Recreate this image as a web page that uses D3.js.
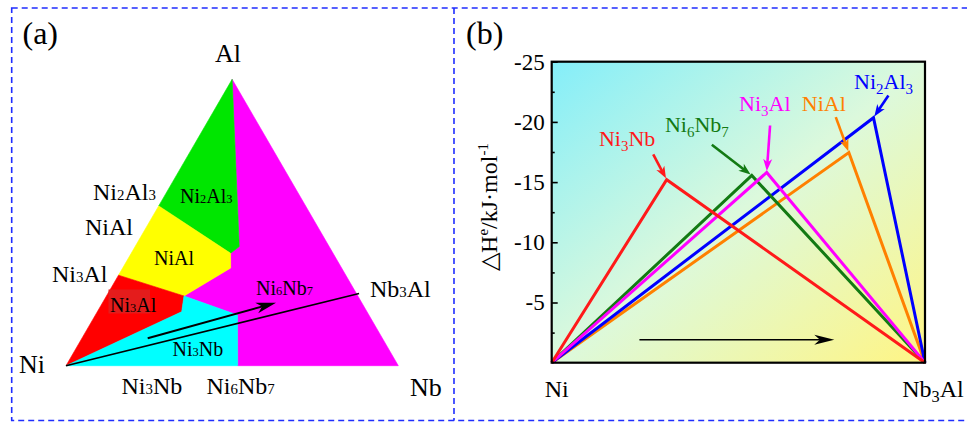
<!DOCTYPE html>
<html>
<head>
<meta charset="utf-8">
<script src="https://cdn.jsdelivr.net/npm/d3@7"></script>
<style>
  body { margin: 0; background: #fff; }
  svg { display: block; }
  text { font-family: "Liberation Serif", "Times New Roman", serif; }
</style>
</head>
<body>
<svg id="fig" width="967" height="423"></svg>
<script>
// ---------- Panel (a): Ni–Al–Nb ternary phase map ----------
// Each point is [Al fraction, Nb fraction]; Ni makes up the rest.
const regionNi2Al3 = [[1, 0], [0.558, 0], [0.3925, 0.299], [0.416, 0.3134]];
const regionNiAl   = [[0.558, 0], [0.316, 0], [0.2434, 0.2334], [0.3411, 0.325], [0.3925, 0.299]];
const regionNi3Al  = [[0.316, 0], [0, 0], [0.1885, 0.2539], [0.2434, 0.2334]];
const regionNi3Nb  = [[0, 0], [0, 0.5167], [0.177, 0.4276], [0.2434, 0.2334], [0.1885, 0.2539]];
const regionNi6Nb7 = [[1, 0], [0.416, 0.3134], [0.3925, 0.299], [0.3411, 0.325], [0.2434, 0.2334],
                      [0.177, 0.4276], [0, 0.5167], [0, 1]];
const regionNames  = ["Ni6Nb7", "Ni2Al3", "NiAl", "Ni3Al", "Ni3Nb"];
const regionFills  = ["#ff00ff", "#00e600", "#ffff00", "#ff0000", "#00ffff"];
const regionPolys  = [regionNi6Nb7, regionNi2Al3, regionNiAl, regionNi3Al, regionNi3Nb];

// composition path Ni -> Nb3Al and the direction arrow beside it
const pathNi      = [0, 0];
const pathNb3Al   = [0.25, 0.75];
const pathArrowA  = [[0.0957, 0.198], [0.22, 0.522]];

// ---------- Panel (b): formation enthalpy along Ni -> Nb3Al ----------
const compounds   = ["Ni3Nb", "Ni6Nb7", "Ni3Al", "NiAl", "Ni2Al3"];
const peakX       = [0.308, 0.536, 0.576, 0.796, 0.862];
const peakH       = [-15.2, -15.55, -15.8, -17.45, -20.35];
const calloutX    = [0.272, 0.429, 0.585, 0.761, 0.902];
const calloutH    = [-17.3, -18.1, -19.7, -20.4, -22.2];
const labelX      = [0.202, 0.389, 0.571, 0.729, 0.889];
const labelH      = [-18.0, -19.12, -20.9, -20.9, -22.7];
const seriesColor = ["#ff1a1a", "#137a13", "#ff00ff", "#ff8000", "#0000ff"];
const drawOrder   = [3, 4, 1, 2, 0];
const yTicks      = [-5, -10, -15, -20, -25];
const yMinorTicks = [-2.5, -7.5, -12.5, -17.5, -22.5];
const xEndLabels  = ["Ni", "Nb3Al"];
const trendArrow  = [[0.235, -1.9], [0.757, -1.9]];

const svg = d3.select("#fig");

// text with chemical-formula digits as small tspans
function formula(g, str, x, y, size, opt = {}) {
  const t = g.append("text")
    .attr("x", x).attr("y", y)
    .attr("font-size", size)
    .attr("text-anchor", opt.anchor || "start")
    .attr("fill", opt.fill || "#000");
  const drop = opt.drop || 0;
  let shifted = 0;
  str.match(/\d+|\D+/g).forEach(tok => {
    const ts = t.append("tspan").text(tok);
    if (/^\d/.test(tok)) {
      ts.attr("font-size", size * (opt.sub || 0.62));
      if (drop) { ts.attr("dy", drop - shifted); shifted = drop; }
    } else if (shifted) {
      ts.attr("dy", -shifted); shifted = 0;
    }
  });
  return t;
}

// filled barbed arrow head at tip, pointing along from->tip
function arrowHead(g, from, tip, len, half, fill) {
  const dx = tip[0] - from[0], dy = tip[1] - from[1];
  const L = Math.hypot(dx, dy), ux = dx / L, uy = dy / L;
  const bx = tip[0] - ux * len, by = tip[1] - uy * len;
  const nx = -uy, ny = ux;
  const ix = tip[0] - ux * len * 0.72, iy = tip[1] - uy * len * 0.72;
  g.append("path")
    .attr("d", `M${tip[0]},${tip[1]}L${bx + nx * half},${by + ny * half}L${ix},${iy}L${bx - nx * half},${by - ny * half}Z`)
    .attr("fill", fill);
}

// ---------- frame of the figure ----------
const frame = svg.append("g")
  .attr("fill", "none").attr("stroke", "#1f2dff")
  .attr("stroke-width", 1.6).attr("stroke-dasharray", "6,4");
frame.append("rect").attr("x", 11.7).attr("y", 8).attr("width", 970).attr("height", 412.5);
frame.append("line").attr("x1", 454).attr("x2", 454).attr("y1", 8).attr("y2", 420.5);

// ---------- panel (a) ----------
const gA = svg.append("g");
const tx = d3.scaleLinear().domain([0, 1]).range([66, 398.3]);
const ty = d3.scaleLinear().domain([0, 1]).range([365.7, 79.3]);
const proj = ([al, nb]) => [tx(nb + al / 2), ty(al)];
const poly = d3.line().x(d => proj(d)[0]).y(d => proj(d)[1]).curve(d3.curveLinearClosed);

gA.selectAll("path.region")
  .data(regionPolys)
  .join("path")
  .attr("class", "region")
  .attr("d", poly)
  .attr("fill", (d, i) => regionFills[i])
  .attr("stroke", (d, i) => regionFills[i])
  .attr("stroke-width", 0.6);

// slightly darker patch behind the Ni3Al region label
gA.append("rect").attr("x", 108.5).attr("y", 289.5).attr("width", 41.5).attr("height", 24)
  .attr("fill", "#e41c1c");

// Ni -> Nb3Al line (runs a touch past the edge)
const p0 = proj(pathNi), p1 = proj(pathNb3Al);
const ext = 1.008;
gA.append("line")
  .attr("x1", p0[0]).attr("y1", p0[1])
  .attr("x2", p0[0] + (p1[0] - p0[0]) * ext).attr("y2", p0[1] + (p1[1] - p0[1]) * ext)
  .attr("stroke", "#000").attr("stroke-width", 1.6);

const a0 = proj(pathArrowA[0]), a1 = proj(pathArrowA[1]);
const aLen = Math.hypot(a1[0] - a0[0], a1[1] - a0[1]);
gA.append("line")
  .attr("x1", a0[0]).attr("y1", a0[1])
  .attr("x2", a1[0] - (a1[0] - a0[0]) / aLen * 12).attr("y2", a1[1] - (a1[1] - a0[1]) / aLen * 12)
  .attr("stroke", "#000").attr("stroke-width", 2);
arrowHead(gA, a0, a1, 20, 5.5, "#000");

// outer labels
const outerLabels = [
  { t: "(a)",    x: 22.5, y: 44,    s: 32 },
  { t: "Al",     x: 215,  y: 61.5,  s: 26 },
  { t: "Ni2Al3", x: 93,   y: 200,   s: 24 },
  { t: "NiAl",   x: 85,   y: 235,   s: 24 },
  { t: "Ni3Al",  x: 52,   y: 281.5, s: 24 },
  { t: "Ni",     x: 19,   y: 372.5, s: 26 },
  { t: "Ni3Nb",  x: 121.5,y: 393.5, s: 24 },
  { t: "Ni6Nb7", x: 206.5,y: 393.5, s: 24 },
  { t: "Nb",     x: 410,  y: 396,   s: 26 },
  { t: "Nb3Al",  x: 370,  y: 296.5, s: 24 }
];
outerLabels.forEach(l => formula(gA, l.t, l.x, l.y, l.s));

// region labels
const innerLabels = [
  { t: "Ni2Al3", x: 180,   y: 202.5 },
  { t: "NiAl",   x: 154,   y: 265 },
  { t: "Ni3Al",  x: 110,   y: 311.5 },
  { t: "Ni6Nb7", x: 256,   y: 294.5 },
  { t: "Ni3Nb",  x: 172.5, y: 356 }
];
innerLabels.forEach(l => formula(gA, l.t, l.x, l.y, 20));

// ---------- panel (b) ----------
const gB = svg.append("g");
const x = d3.scaleLinear().domain([0, 1]).range([551.7, 925]);
const y = d3.scaleLinear().domain([0, -25]).range([362.7, 61.7]);

const grad = svg.append("defs").append("linearGradient")
  .attr("id", "bgGrad").attr("x1", 0).attr("y1", 0).attr("x2", 1).attr("y2", 1);
grad.append("stop").attr("offset", 0).attr("stop-color", "#84eef9");
grad.append("stop").attr("offset", 0.5).attr("stop-color", "#dcf9dc");
grad.append("stop").attr("offset", 1).attr("stop-color", "#fff584");

gB.append("rect")
  .attr("x", x(0)).attr("y", y(-25))
  .attr("width", x(1) - x(0)).attr("height", y(0) - y(-25))
  .attr("fill", "url(#bgGrad)");

// minor and major ticks point inward
gB.append("g").attr("transform", `translate(${x(0)},0)`)
  .call(d3.axisLeft(y).tickValues(yMinorTicks).tickSize(-3).tickFormat(""))
  .call(g => g.select(".domain").remove())
  .call(g => g.selectAll("line").attr("stroke-width", 1.6));
gB.append("g").attr("transform", `translate(${x(0)},0)`)
  .call(d3.axisLeft(y).tickValues(yTicks).tickSize(-6).tickPadding(7).tickFormat(d => String(d)))
  .call(g => g.select(".domain").remove())
  .call(g => g.selectAll("line").attr("stroke-width", 1.6))
  .call(g => g.selectAll("text")
    .attr("font-family", "'Liberation Serif', 'Times New Roman', serif")
    .attr("font-size", 23).attr("fill", "#000"));

// enthalpy curves
const curve = d3.line().x(d => x(d[0])).y(d => y(d[1]));
const seriesPts = compounds.map((c, i) => [[0, 0], [peakX[i], peakH[i]], [1, 0]]);
gB.selectAll("path.series")
  .data(drawOrder)
  .join("path")
  .attr("class", "series")
  .attr("d", i => curve(seriesPts[i]))
  .attr("fill", "none")
  .attr("stroke", i => seriesColor[i])
  .attr("stroke-width", 3)
  .attr("stroke-linejoin", "miter");

// callouts
compounds.forEach((c, i) => {
  const from = [x(calloutX[i]), y(calloutH[i])];
  const tip = [x(peakX[i]), y(peakH[i])];
  const L = Math.hypot(tip[0] - from[0], tip[1] - from[1]);
  const ux = (tip[0] - from[0]) / L, uy = (tip[1] - from[1]) / L;
  const end = [tip[0] - ux * 1.5, tip[1] - uy * 1.5];
  gB.append("line")
    .attr("x1", from[0]).attr("y1", from[1])
    .attr("x2", end[0] - ux * 8).attr("y2", end[1] - uy * 8)
    .attr("stroke", seriesColor[i]).attr("stroke-width", 2.6);
  arrowHead(gB, from, end, 12, 4.5, seriesColor[i]);
  formula(gB, c, x(labelX[i]), y(labelH[i]), 22,
    { anchor: "middle", fill: seriesColor[i], sub: 0.68, drop: 5 });
});

// trend arrow
const t0 = [x(trendArrow[0][0]), y(trendArrow[0][1])];
const t1 = [x(trendArrow[1][0]), y(trendArrow[1][1])];
gB.append("line")
  .attr("x1", t0[0]).attr("y1", t0[1]).attr("x2", t1[0] - 12).attr("y2", t1[1])
  .attr("stroke", "#000").attr("stroke-width", 1.6);
arrowHead(gB, t0, t1, 20, 5, "#000");

// plot frame
gB.append("rect")
  .attr("x", x(0)).attr("y", y(-25))
  .attr("width", x(1) - x(0)).attr("height", y(0) - y(-25))
  .attr("fill", "none").attr("stroke", "#000").attr("stroke-width", 2.2);

// end-member labels
xEndLabels.forEach((t, i) => formula(gB, t, x(i) + 7, 396.5, 24,
  { anchor: i === 0 ? "start" : "middle", sub: 0.68, drop: 5 })
  .attr("x", i === 0 ? x(0) - 7 : x(1) + 8));

// axis title
const yt = gB.append("text")
  .attr("transform", "translate(497,207) rotate(-90)")
  .attr("text-anchor", "middle")
  .attr("font-size", 24).attr("fill", "#000");
yt.append("tspan").text("△H");
yt.append("tspan").text("e").attr("font-size", 15).attr("dy", -9);
yt.append("tspan").text("/kJ·mol").attr("dy", 9);
yt.append("tspan").text("-1").attr("font-size", 15).attr("dy", -9);

formula(gB, "(b)", 466, 44, 32);
</script>
</body>
</html>
